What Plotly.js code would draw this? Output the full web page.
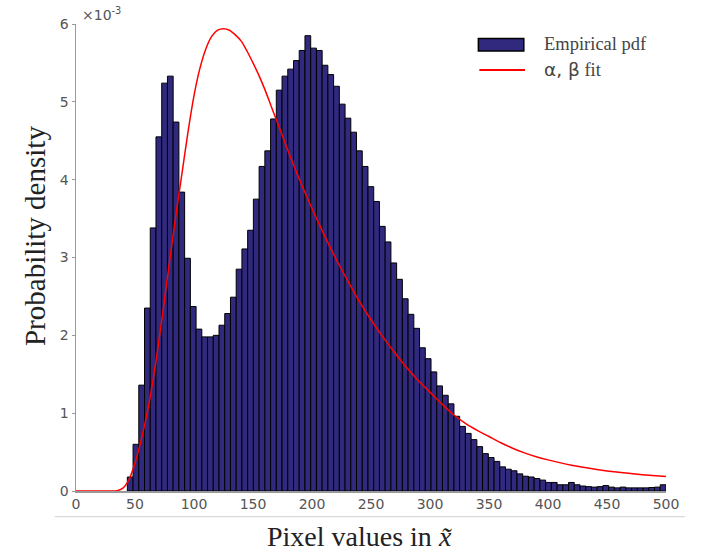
<!DOCTYPE html>
<html>
<head>
<meta charset="utf-8">
<script src="https://cdn.plot.ly/plotly-3.0.1.min.js"></script>
<style>html,body{margin:0;padding:0;background:#fff;}#chart{width:702px;height:553px;}</style>
</head>
<body>
<div id="chart"></div>
<script>
// Histogram: 94 bins, first bin starts near x = 43.5, last ends at 500
var binStart = 43.5;
var binWidth = 4.856;
// Empirical pdf, in units of 1e-3
var empiricalPdf = [
  0.18, 0.60, 1.36, 2.35, 3.38, 4.55, 5.24, 5.33, 4.74, 3.84,
  2.99, 2.37, 2.08, 1.98, 1.98, 2.00, 2.13, 2.28, 2.49, 2.85,
  3.11, 3.35, 3.75, 4.17, 4.37, 4.78, 5.15, 5.33, 5.42, 5.53,
  5.66, 5.85, 5.69, 5.66, 5.47, 5.35, 5.20, 4.97, 4.79, 4.61,
  4.37, 4.17, 3.91, 3.72, 3.40, 3.20, 2.93, 2.72, 2.47, 2.27,
  2.09, 1.84, 1.70, 1.53, 1.35, 1.23, 1.12, 0.96, 0.83, 0.74,
  0.66, 0.57, 0.48, 0.43, 0.38, 0.31, 0.28, 0.26, 0.22, 0.19,
  0.18, 0.16, 0.14, 0.11, 0.11, 0.08, 0.08, 0.11, 0.08, 0.064,
  0.056, 0.05, 0.056, 0.07, 0.05, 0.04, 0.05, 0.04, 0.04, 0.04,
  0.04, 0.045, 0.05, 0.08
];
// Fitted curve (alpha, beta fit), in units of 1e-3
var fitX = [0, 10, 20, 30, 35, 40, 45, 50, 55, 60, 65, 70, 75, 80, 85, 90, 95, 100, 105, 110,
  115, 120, 125, 130, 135, 140, 145, 150, 155, 160, 165, 170, 175, 180, 190, 200, 210, 220, 230, 240,
  250, 260, 270, 280, 290, 300, 310, 320, 330, 340, 350, 360, 370, 380, 390, 400, 420, 440, 460, 480, 500];
var fitY = [0, 0, 0, 0, 0.005, 0.04, 0.15, 0.36, 0.64, 0.98, 1.40, 1.90, 2.46, 3.03, 3.58, 4.10, 4.62, 5.08, 5.43, 5.68,
  5.84, 5.92, 5.94, 5.92, 5.86, 5.78, 5.65, 5.50, 5.34, 5.16, 4.96, 4.76, 4.56, 4.36, 3.98, 3.63, 3.30, 2.99, 2.71, 2.44,
  2.20, 1.98, 1.78, 1.59, 1.42, 1.27, 1.12, 0.98, 0.87, 0.78, 0.70, 0.62, 0.55, 0.49, 0.44, 0.40, 0.33, 0.28, 0.24, 0.21, 0.185];
var xTicks = [0, 50, 100, 150, 200, 250, 300, 350, 400, 450, 500];
var yTicks = [0, 1, 2, 3, 4, 5, 6];
var legendLabels = ['Empirical pdf', '<span style="font-family:\'DejaVu Sans\'">α, β</span> fit'];

var barColor = 'rgb(48,41,126)';
var grey = '#999999';
var tickFont = {family: 'DejaVu Sans, sans-serif', size: 14, color: '#555555'};
var serif = 'Liberation Serif, Times New Roman, serif';

var traces = [
  {
    type: 'bar', y: empiricalPdf, x0: binStart + binWidth / 2, dx: binWidth, width: binWidth,
    marker: {color: barColor, line: {color: '#000000', width: 1}},
    name: 'Empirical pdf', hoverinfo: 'x+y', showlegend: false
  },
  {
    type: 'scatter', mode: 'lines', x: fitX, y: fitY,
    line: {color: '#ff0000', width: 1.5, shape: 'spline', smoothing: 0.8},
    name: 'α, β fit', showlegend: false
  }
];

var layout = {
  width: 702, height: 553,
  margin: {l: 76, r: 36, t: 24, b: 62},
  paper_bgcolor: '#ffffff', plot_bgcolor: '#ffffff',
  bargap: 0,
  showlegend: false,
  xaxis: {
    range: [0, 500], tickvals: xTicks, ticktext: xTicks.map(String),
    showgrid: false, zeroline: false, showline: true, linecolor: grey, linewidth: 1.5,
    ticks: '', tickfont: tickFont
  },
  yaxis: {
    range: [0, 6], tickvals: yTicks, ticktext: yTicks.map(String),
    showgrid: false, zeroline: false, showline: true, linecolor: grey, linewidth: 1.5,
    ticks: 'outside', ticklen: 3, tickcolor: grey, tickwidth: 1, tickfont: tickFont
  },
  shapes: [
    {type: 'line', xref: 'paper', yref: 'paper', x0: -0.036, x1: 1.032, y0: -0.055, y1: -0.055,
     line: {color: '#d0d0d0', width: 1}},
    {type: 'rect', xref: 'paper', yref: 'paper', x0: 0.682, x1: 0.759, y0: 0.942, y1: 0.969,
     fillcolor: barColor, line: {color: '#000000', width: 1.5}},
    {type: 'line', xref: 'paper', yref: 'paper', x0: 0.6836, x1: 0.761, y0: 0.9015, y1: 0.9015,
     line: {color: '#ff0000', width: 2}}
  ],
  annotations: [
    {xref: 'paper', yref: 'paper', x: 0.481, y: -0.0985, xanchor: 'center', yanchor: 'middle',
     text: 'Pixel values in <i>x̃</i>', showarrow: false, font: {family: serif, size: 28, color: '#222222'}},
    {xref: 'paper', yref: 'paper', x: -0.0695, y: 0.546, xanchor: 'center', yanchor: 'middle',
     text: 'Probability density', textangle: -90, showarrow: false, font: {family: serif, size: 29, color: '#222222'}},
    {xref: 'paper', yref: 'paper', x: 0.006, y: 1.021, xanchor: 'left', yanchor: 'middle',
     text: '×10<sup>-3</sup>', showarrow: false, font: {family: 'DejaVu Sans, sans-serif', size: 14, color: '#555555'}},
    {xref: 'paper', yref: 'paper', x: 0.789, y: 0.957, xanchor: 'left', yanchor: 'middle',
     text: legendLabels[0], showarrow: false, font: {family: serif, size: 18.5, color: '#444444'}},
    {xref: 'paper', yref: 'paper', x: 0.789, y: 0.9015, xanchor: 'left', yanchor: 'middle',
     text: legendLabels[1], showarrow: false, font: {family: serif, size: 18.5, color: '#444444'}}
  ]
};

Plotly.newPlot('chart', traces, layout, {displayModeBar: false, staticPlot: true});
</script>
</body>
</html>
